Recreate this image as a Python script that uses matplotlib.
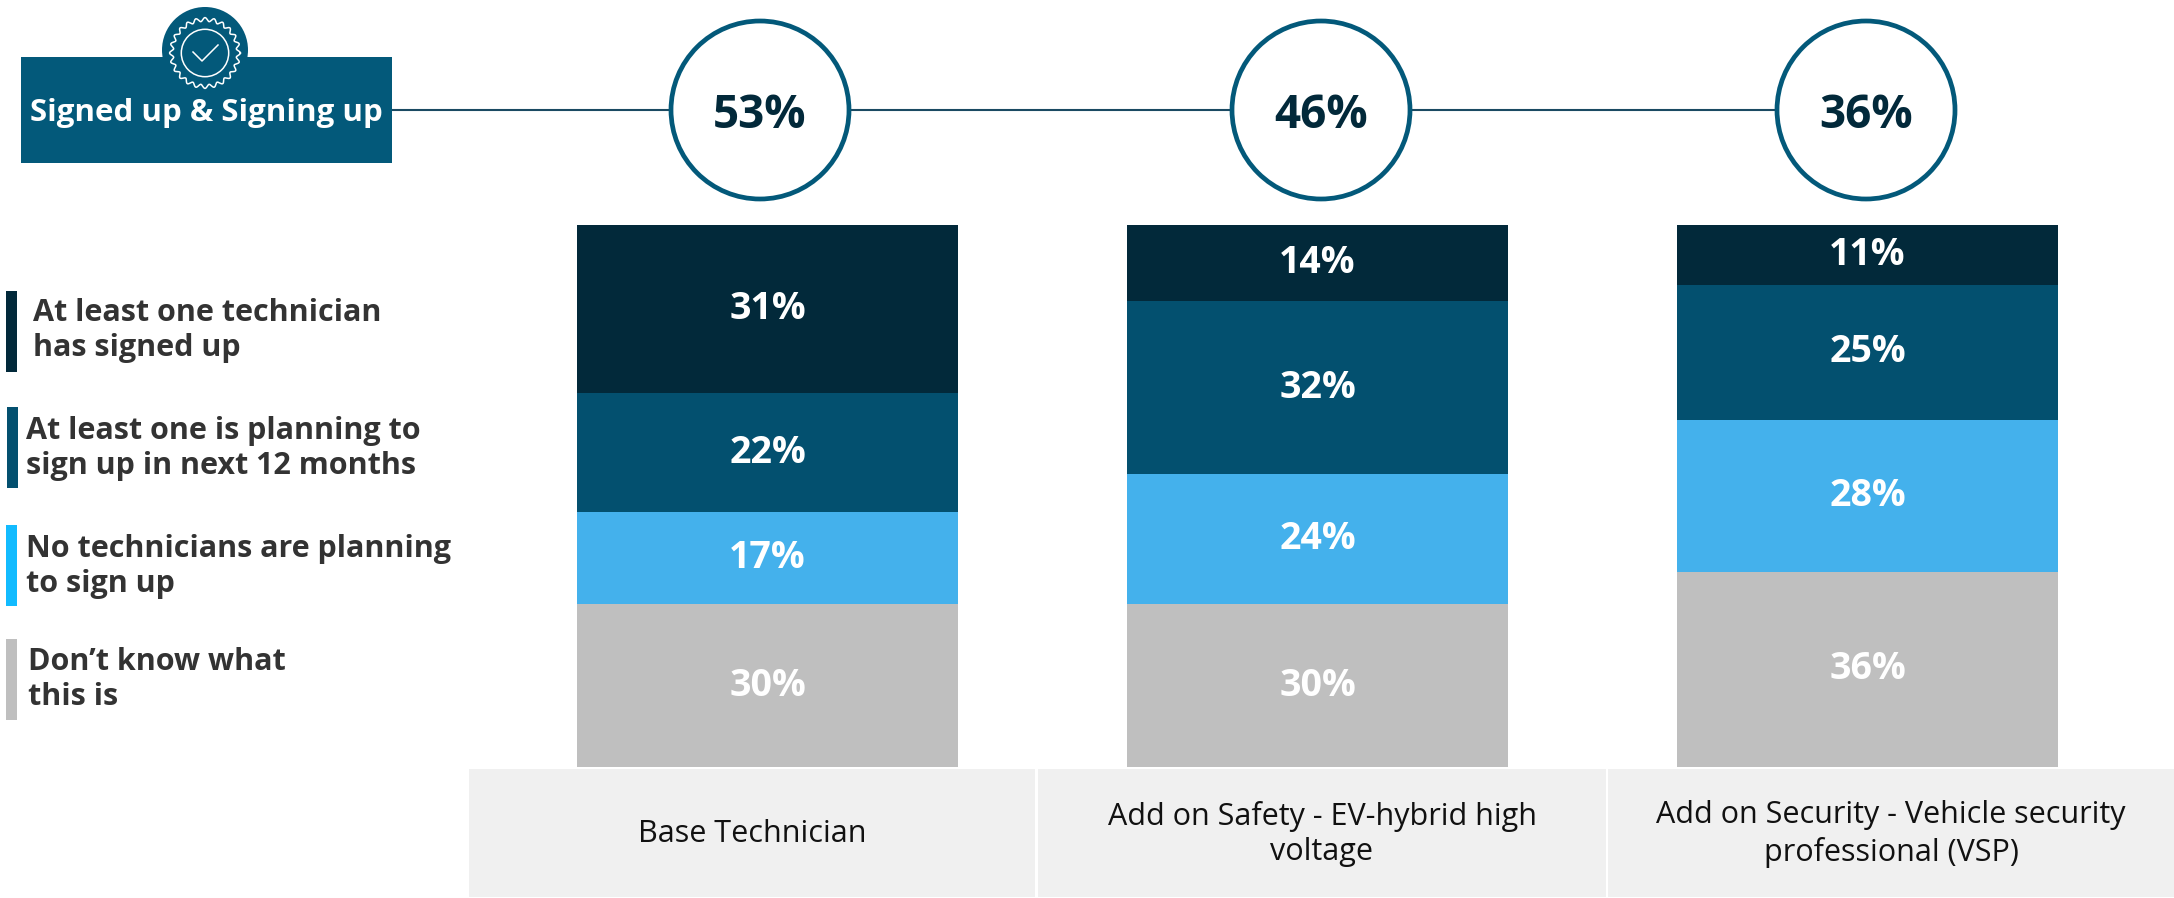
import numpy as np
import matplotlib
matplotlib.use("Agg")
import matplotlib.pyplot as plt
from matplotlib.patches import Circle, Rectangle

plt.rcParams["font.family"] = ["Open Sans", "DejaVu Sans"]

# Data
categories = [
    "Base Technician",
    "Add on Safety - EV-hybrid high\nvoltage",
    "Add on Security - Vehicle security\nprofessional (VSP)",
]
signed_up = [31, 14, 11]
planning = [22, 32, 25]
not_planning = [17, 24, 28]
dont_know = [30, 30, 36]
totals = ["53%", "46%", "36%"]
header_label = "Signed up & Signing up"
legend_labels = [
    "At least one technician\nhas signed up",
    "At least one is planning to\nsign up in next 12 months",
    "No technicians are planning\nto sign up",
    "Don\u2019t know what\nthis is",
]

BAR_COLORS = ["#02293a", "#03506f", "#44b1ec", "#bfbfbf"]
LEGEND_COLORS = ["#02293a", "#03506f", "#12bbff", "#bfbfbf"]
TEAL = "#03597a"
TEXT = "#333333"
W, H = 2174, 898

fig = plt.figure(figsize=(W / 100, H / 100), dpi=100, facecolor="white")

# Bars live in their own axes, category spacing is 550px
ax = fig.add_axes([492.5 / W, (H - 767) / H, 1650 / W, 542 / H])
ax.set_xlim(-0.5, 2.5)
ax.set_ylim(0, 100)
ax.axis("off")

x = np.arange(len(categories))
bottom = np.zeros(len(categories))
series = [dont_know, not_planning, planning, signed_up]
for values, color in zip(series, BAR_COLORS[::-1]):
    bars = ax.bar(x, values, width=0.693, bottom=bottom, color=color, linewidth=0)
    labels = [f"{v}%" for v in values]
    ax.bar_label(bars, labels=labels, label_type="center", color="white",
                 fontsize=27, fontweight="bold")
    bottom += np.array(values)

# Overlay in pixel coordinates for everything around the bars
over = fig.add_axes([0, 0, 1, 1], facecolor="none")
over.set_xlim(0, W)
over.set_ylim(H, 0)
over.axis("off")

# Connector line and total circles
over.plot([393, 1866], [110, 110], color="#1b4a62", lw=1.5, zorder=1)
for cx, total in zip([760, 1321, 1866], totals):
    over.add_patch(Circle((cx, 110), 89, facecolor="white", edgecolor=TEAL, lw=3.4, zorder=2))
    over.text(cx, 110, total, ha="center", va="center_baseline", color="#02293a",
              fontsize=33, fontweight="bold", zorder=3)

# Header box with badge
over.add_patch(Rectangle((21, 57), 371, 106, facecolor=TEAL, linewidth=0))
over.add_patch(Circle((205, 50), 43, facecolor=TEAL, linewidth=0))
over.text(206.5, 110, header_label, ha="center", va="center_baseline", color="white",
          fontsize=22.5, fontweight="bold")
t = np.linspace(0, 2 * np.pi, 600)
r = 33.5 + 1.9 * np.cos(24 * t)
over.plot(205 + r * np.cos(t), 53 + r * np.sin(t), color="white", lw=1.1)
over.add_patch(Circle((205, 53), 23.7, facecolor="none", edgecolor="white", lw=1.1))
over.plot([193, 202, 218], [52, 61, 45], color="white", lw=1.1)

# Legend
swatches = [(6, 291), (7, 407), (6, 525), (6, 639)]
text_x = [33, 26, 26, 28]
text_y = [321, 439, 557, 670]
for (sx, sy), tx, ty, color, label in zip(swatches, text_x, text_y, LEGEND_COLORS, legend_labels):
    over.add_patch(Rectangle((sx, sy), 11, 81, facecolor=color, linewidth=0))
    first, second = label.split("\n")
    over.text(tx, ty, first, ha="left", va="baseline", color=TEXT, fontsize=22, fontweight="bold")
    over.text(tx, ty + 35, second, ha="left", va="baseline", color=TEXT, fontsize=22, fontweight="bold")

# Category cells under the bars
cells = [(465, 422), (1039, 566), (1607, 567)]
cells = [(469, 566), (1038, 568), (1608, 566)]
for (cx, cw), label in zip(cells, categories):
    over.add_patch(Rectangle((cx, 769), cw, 128, facecolor="#f0f0f0", linewidth=0))
    over.text(cx + cw / 2, 834, label, ha="center", va="center", color="#111111",
              fontsize=22, linespacing=1.25)

fig.savefig("out.png", dpi=100)
